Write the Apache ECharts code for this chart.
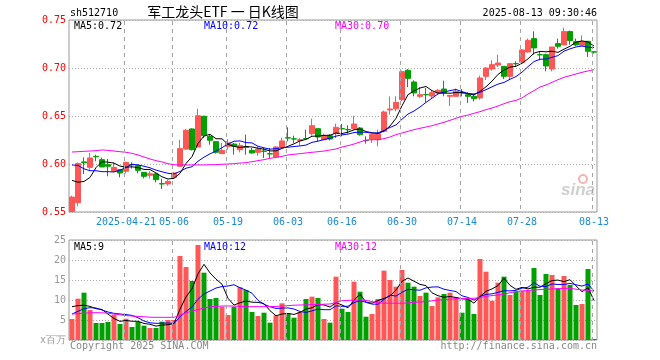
<!DOCTYPE html>
<html><head><meta charset="utf-8">
<script src="https://cdn.jsdelivr.net/npm/echarts@6/dist/echarts.min.js"></script>
<style>html,body{margin:0;padding:0;background:#fff}#c{width:660px;height:360px}</style>
</head><body><div id="c"></div>
<script>
const dates = ['04-08','04-09','04-10','04-11','04-14','04-15','04-16','04-17','04-18','04-21',
'04-22','04-23','04-24','04-25','04-28','04-29','04-30','05-06','05-07','05-08',
'05-09','05-12','05-13','05-14','05-15','05-16','05-19','05-20','05-21','05-22',
'05-23','05-26','05-27','05-28','05-29','05-30','06-03','06-04','06-05','06-06',
'06-09','06-10','06-11','06-12','06-13','06-16','06-17','06-18','06-19','06-20',
'06-23','06-24','06-25','06-26','06-27','06-30','07-01','07-02','07-03','07-04',
'07-07','07-08','07-09','07-10','07-11','07-14','07-15','07-16','07-17','07-18',
'07-21','07-22','07-23','07-24','07-25','07-28','07-29','07-30','07-31','08-01',
'08-04','08-05','08-06','08-07','08-08','08-11','08-12','08-13'];

const tickDates  = ['04-21','05-06','05-19','06-03','06-16','06-30','07-14','07-28','08-13'];
const tickLabels = ['2025-04-21','05-06','05-19','06-03','06-16','06-30','07-14','07-28','08-13'];
const priceTicks = [0.55, 0.60, 0.65, 0.70, 0.75];
const volTicks = [0, 5, 10, 15, 20, 25];

const opens = [0.5505,0.5597,0.6022,0.5965,0.6080,0.6045,0.5993,0.5924,0.5941,0.5924,
0.5995,0.5983,0.5913,0.5882,0.5896,0.5795,0.5792,0.5861,0.5976,0.6156,
0.6365,0.6177,0.6497,0.6288,0.6233,0.6108,0.6184,0.6208,0.6149,0.6177,
0.6142,0.6122,0.6135,0.6108,0.6073,0.6177,0.6273,0.6262,0.6243,0.6265,
0.6316,0.6368,0.6253,0.6295,0.6316,0.6370,0.6359,0.6368,0.6375,0.6245,
0.6260,0.6253,0.6340,0.6563,0.6576,0.6670,0.6976,0.6854,0.6705,0.6724,
0.6708,0.6740,0.6781,0.6705,0.6705,0.6742,0.6722,0.6705,0.6688,0.6913,
0.6990,0.7031,0.7017,0.6913,0.7046,0.7059,0.7167,0.7306,0.7139,0.7139,
0.6990,0.7254,0.7240,0.7379,0.7274,0.7236,0.7278,0.7168];

const closes = [0.5655,0.6005,0.6012,0.6063,0.6075,0.5969,0.5976,0.5965,0.5906,0.6017,
0.5990,0.5934,0.5872,0.5899,0.5837,0.5792,0.5819,0.5906,0.6160,0.6351,
0.6149,0.6503,0.6295,0.6247,0.6122,0.6142,0.6219,0.6184,0.6194,0.6174,
0.6115,0.6156,0.6132,0.6104,0.6177,0.6240,0.6270,0.6260,0.6253,0.6263,
0.6399,0.6281,0.6295,0.6260,0.6382,0.6366,0.6356,0.6417,0.6306,0.6243,
0.6306,0.6316,0.6542,0.6573,0.6642,0.6962,0.6892,0.6740,0.6722,0.6722,
0.6743,0.6767,0.6740,0.6715,0.6757,0.6740,0.6705,0.6681,0.6896,0.7000,
0.7035,0.7052,0.6913,0.7045,0.7044,0.7188,0.7288,0.7209,0.7137,0.7021,
0.7219,0.7226,0.7379,0.7285,0.7240,0.7278,0.7174,0.7166];

const lows = [0.5500,0.5560,0.5896,0.5940,0.6028,0.5969,0.5872,0.5913,0.5861,0.5900,
0.5951,0.5903,0.5850,0.5850,0.5809,0.5740,0.5774,0.5850,0.5976,0.6150,
0.6142,0.6177,0.6270,0.6201,0.6108,0.6108,0.6150,0.6097,0.6122,0.6097,
0.6108,0.6087,0.6063,0.6063,0.6063,0.6177,0.6236,0.6219,0.6191,0.6253,
0.6295,0.6236,0.6253,0.6246,0.6270,0.6288,0.6316,0.6358,0.6295,0.6212,
0.6219,0.6184,0.6330,0.6514,0.6549,0.6653,0.6800,0.6705,0.6688,0.6642,
0.6688,0.6720,0.6705,0.6604,0.6705,0.6705,0.6636,0.6653,0.6670,0.6875,
0.6972,0.7010,0.6885,0.6885,0.7010,0.7059,0.7160,0.7139,0.7080,0.6965,
0.6965,0.7202,0.7240,0.7243,0.7226,0.7236,0.7115,0.7150];

const highs = [0.5670,0.6015,0.6069,0.6115,0.6097,0.6066,0.6052,0.6017,0.5941,0.6024,
0.6017,0.5997,0.5913,0.5924,0.5906,0.5847,0.5837,0.5913,0.6253,0.6365,
0.6372,0.6576,0.6503,0.6306,0.6233,0.6219,0.6260,0.6219,0.6220,0.6306,
0.6167,0.6184,0.6167,0.6167,0.6184,0.6274,0.6382,0.6295,0.6271,0.6358,
0.6472,0.6368,0.6316,0.6312,0.6420,0.6417,0.6403,0.6503,0.6385,0.6288,
0.6306,0.6358,0.6556,0.6705,0.6705,0.6972,0.6990,0.6872,0.6802,0.6792,
0.6767,0.6780,0.6868,0.6715,0.6785,0.6781,0.6747,0.6730,0.6920,0.7010,
0.7080,0.7139,0.7017,0.7045,0.7070,0.7198,0.7306,0.7382,0.7174,0.7150,
0.7219,0.7306,0.7420,0.7390,0.7306,0.7340,0.7278,0.7174];

// volume, millions
const volumes = [5.25,10.33,11.83,7.5,4.25,4.25,4.5,6.33,4.0,5.33,
3.25,4.5,3.58,3.0,3.0,4.58,5.0,5.0,21.0,18.25,
14.75,23.75,16.83,10.25,10.5,8.33,6.25,8.33,13.2,12.5,
7.0,6.0,6.83,4.33,6.17,9.17,6.67,5.58,7.0,10.25,
10.83,10.5,5.25,4.33,15.83,7.83,7.0,14.58,12.08,5.83,
6.5,10.25,17.33,15.0,13.33,17.5,14.33,13.33,11.0,11.83,
8.5,10.67,11.5,11.83,10.67,6.83,10.17,6.5,20.25,17.08,
9.83,14.33,15.83,11.25,12.08,12.33,12.33,18.0,11.25,16.5,
16.25,12.92,16.0,13.75,8.75,9.0,17.75,0.25];

const ma5Head  = [0.583,0.581,0.5818,0.586];
const ma10Head = [0.599,0.5985,0.595,0.593,0.593,0.592,0.592,0.5917,0.5935];
const ma30 = [0.6125,0.6128,0.6132,0.6135,0.6139,0.6146,0.6142,0.6135,0.6128,0.6122,
0.6111,0.6094,0.6073,0.6052,0.6035,0.6021,0.6003,0.5993,0.599,0.599,
0.599,0.599,0.599,0.5993,0.5993,0.5997,0.600,0.6003,0.601,0.6014,
0.6024,0.6035,0.6045,0.6059,0.6069,0.608,0.6094,0.6101,0.6108,0.6115,
0.6122,0.6128,0.6135,0.6146,0.6156,0.6177,0.6191,0.6208,0.6229,0.625,
0.6253,0.6253,0.6264,0.6281,0.6306,0.6323,0.634,0.6358,0.6372,0.6385,
0.6399,0.6417,0.6434,0.6455,0.6476,0.6497,0.651,0.6528,0.6545,0.6566,
0.6583,0.6604,0.6628,0.6649,0.6663,0.6688,0.6729,0.6764,0.6802,0.6823,
0.6851,0.6878,0.6903,0.692,0.6938,0.6955,0.6969,0.6983];
const vma5Head  = [8.33,8.6,8.7,8.4];
const vma10Head = [6.5,7.17,7.83,8.08,8.0,7.5,7.0,6.67,6.5];
const vma30 = [6.5,6.6,6.7,6.8,6.83,6.8,6.7,6.5,6.3,6.1,
6.0,5.9,5.8,5.7,5.67,5.67,5.67,5.67,6.2,6.8,
7.2,7.6,8.0,8.3,8.4,8.5,8.5,8.5,8.4,8.33,
8.33,8.33,8.33,8.35,8.4,8.5,8.6,8.7,8.75,8.8,
8.85,8.9,8.95,9.0,9.4,9.83,9.9,9.95,10.0,9.9,
9.6,9.3,9.2,9.2,9.2,9.2,9.25,9.4,9.5,9.6,
9.8,10.0,10.1,10.2,10.3,10.35,10.4,10.42,10.6,10.9,
11.1,11.25,11.5,11.8,12.1,12.25,12.4,12.5,12.6,12.67,
12.75,12.85,12.92,12.9,12.7,12.5,12.4,12.25];

function movingAvg(arr, n, head) {
  return arr.map((v, i) => {
    if (i < n - 1) return head[i];
    let s = 0; for (let k = i - n + 1; k <= i; k++) s += arr[k];
    return s / n;
  });
}
const ma5 = movingAvg(closes, 5, ma5Head);
const ma10 = movingAvg(closes, 10, ma10Head);
const vma5 = movingAvg(volumes, 5, vma5Head);
const vma10 = movingAvg(volumes, 10, vma10Head);

const UP = '#FF5656', DOWN = '#00A000';
const FONT = 'DejaVu Sans Mono';
const kData = dates.map((d, i) => [opens[i], closes[i], lows[i], highs[i]]);
const volData = volumes.map((v, i) => ({ value: v, itemStyle: { color: closes[i] >= opens[i] ? UP : DOWN } }));
const tickIdx = new Set(tickDates.map(d => dates.indexOf(d)));
const last = a => a[a.length - 1];

const chart = echarts.init(document.getElementById('c'), null, { renderer: 'canvas' });
const ySplit = { show: true, lineStyle: { color: '#AAAAAA', type: [1, 2], width: 1 } };

function txt(x, y, text, color) {
  return { type: 'text', x, y, z: 100, style: { text, fill: color, font: '10px "' + FONT + '"', textVerticalAlign: 'middle' } };
}

// dashes of one vertical date line, as 1px rects
function dashRects(x, y0, y1) {
  const out = [];
  for (let y = y0 + 1; y < y1; y += 8) {
    out.push({ type: 'rect', silent: true, z: 50,
      shape: { x: x, y: y, width: 1, height: Math.min(4, y1 - y) },
      style: { fill: '#A4A4A4' } });
  }
  return out;
}
function dateLines(top, bot) {
  return function (params, api) {
    const a = api.coord([api.value(0), top]);
    const b = api.coord([api.value(0), bot]);
    const x = Math.round(a[0]) - 2;
    return { type: 'group', children: dashRects(x, Math.min(a[1], b[1]), Math.max(a[1], b[1])) };
  };
}
const priceTickData = tickDates.map(d => [dates.indexOf(d), last(priceTicks)]);
const volTickData = tickDates.map(d => [dates.indexOf(d), last(volTicks)]);

const staticGraphics = [
  txt(70, 13, 'sh512710', '#000'),
  { type: 'text', x: 223, y: 12, z: 100, style: { text: '军工龙头ETF 一 日K线图', fill: '#000', font: '14px "Noto Sans CJK SC"', textAlign: 'center', textVerticalAlign: 'middle' } },
  { type: 'text', x: 597, y: 13, z: 100, style: { text: '2025-08-13 09:30:46', fill: '#000', font: '10px "' + FONT + '"', textAlign: 'right', textVerticalAlign: 'middle' } },
  txt(74, 26, 'MA5:' + last(ma5).toFixed(2), '#000'),
  txt(204, 26, 'MA10:' + last(ma10).toFixed(2), '#0000FF'),
  txt(335, 26, 'MA30:' + last(ma30).toFixed(2), '#FF00FF'),
  txt(74, 247, 'MA5:' + Math.floor(last(vma5)), '#000'),
  txt(204, 247, 'MA10:' + Math.floor(last(vma10)), '#0000FF'),
  txt(335, 247, 'MA30:' + Math.floor(last(vma30)), '#FF00FF'),
  txt(70, 346, 'Copyright 2025 SINA.COM', '#888'),
  { type: 'text', x: 597, y: 346, z: 100, style: { text: 'http://finance.sina.com.cn', fill: '#888', font: '10px "' + FONT + '"', textAlign: 'right', textVerticalAlign: 'middle' } },
  { type: 'circle', shape: { cx: 583, cy: 179, r: 4 }, z: 1, style: { fill: 'none', stroke: '#F4B4B4', lineWidth: 2 } },
  { type: 'text', x: 595, y: 190, z: 1, style: { text: 'sina', fill: '#CFCFCF', font: 'italic bold 17px "Liberation Sans"', textAlign: 'right', textVerticalAlign: 'middle' } }
];

chart.setOption({
  animation: false,
  backgroundColor: '#fff',
  grid: [
    { left: 69, top: 20, width: 528, height: 192, show: true, borderColor: '#999', borderWidth: 1, backgroundColor: 'transparent' },
    { left: 69, top: 240, width: 528, height: 100, show: true, borderColor: '#999', borderWidth: 1, backgroundColor: 'transparent' }
  ],
  xAxis: [
    { type: 'category', gridIndex: 0, data: dates, boundaryGap: true,
      axisLine: { show: false }, axisTick: { show: false },
      axisLabel: { interval: i => tickIdx.has(i), margin: 5, color: '#1A8AD8', fontFamily: FONT, fontSize: 10,
        formatter: v => tickLabels[tickDates.indexOf(v)] },
      splitLine: { show: false } },
    { type: 'category', gridIndex: 1, data: dates, boundaryGap: true,
      axisLine: { show: false }, axisTick: { show: false }, axisLabel: { show: false },
      splitLine: { show: false } }
  ],
  yAxis: [
    { type: 'value', gridIndex: 0, min: priceTicks[0], max: last(priceTicks), interval: 0.05,
      axisLine: { show: false }, axisTick: { show: false },
      axisLabel: { color: '#FF0000', fontFamily: FONT, fontSize: 10, margin: 3, formatter: v => v.toFixed(2) },
      splitLine: ySplit },
    { type: 'value', gridIndex: 1, min: volTicks[0], max: last(volTicks), interval: 5,
      axisLine: { show: false }, axisTick: { show: false },
      axisLabel: { color: '#999999', fontFamily: FONT, fontSize: 10, margin: 3,
        formatter: v => v === 0 ? 'x百万' : String(v) },
      splitLine: ySplit }
  ],
  series: [
    { type: 'candlestick', xAxisIndex: 0, yAxisIndex: 0, data: kData, barWidth: 5, clip: true, z: 3,
      itemStyle: { color: UP, color0: DOWN, borderColor: UP, borderColor0: DOWN, borderWidth: 1 } },
    { type: 'line', xAxisIndex: 0, yAxisIndex: 0, data: ma5, symbol: 'none', z: 4, lineStyle: { color: '#000', width: 1 } },
    { type: 'line', xAxisIndex: 0, yAxisIndex: 0, data: ma10, symbol: 'none', z: 4, lineStyle: { color: '#0000FF', width: 1 } },
    { type: 'line', xAxisIndex: 0, yAxisIndex: 0, data: ma30, symbol: 'none', z: 4, lineStyle: { color: '#FF00FF', width: 1 } },
    { type: 'bar', xAxisIndex: 1, yAxisIndex: 1, data: volData, barWidth: 5, z: 3 },
    { type: 'line', xAxisIndex: 1, yAxisIndex: 1, data: vma5, symbol: 'none', z: 4, lineStyle: { color: '#000', width: 1 } },
    { type: 'line', xAxisIndex: 1, yAxisIndex: 1, data: vma10, symbol: 'none', z: 4, lineStyle: { color: '#0000FF', width: 1 } },
    { type: 'line', xAxisIndex: 1, yAxisIndex: 1, data: vma30, symbol: 'none', z: 4, lineStyle: { color: '#FF00FF', width: 1 } },
    { type: 'custom', xAxisIndex: 0, yAxisIndex: 0, data: priceTickData, z: 10, silent: true, clip: false,
      encode: { x: 0, y: 1 }, renderItem: dateLines(last(priceTicks), priceTicks[0]) },
    { type: 'custom', xAxisIndex: 1, yAxisIndex: 1, data: volTickData, z: 10, silent: true, clip: false,
      encode: { x: 0, y: 1 }, renderItem: dateLines(last(volTicks), volTicks[0]) }
  ],
  graphic: staticGraphics
});

// second path for the same date lines, through convertToPixel
try {
  const extra = [];
  tickDates.forEach(d => {
    const idx = dates.indexOf(d);
    [[0, last(priceTicks), priceTicks[0]], [1, last(volTicks), volTicks[0]]].forEach(([g, top, bot]) => {
      const a = chart.convertToPixel({ xAxisIndex: g, yAxisIndex: g }, [idx, top]);
      const b = chart.convertToPixel({ xAxisIndex: g, yAxisIndex: g }, [idx, bot]);
      if (!a || !b || isNaN(a[0])) return;
      const x = Math.round(a[0]) - 2;
      dashRects(x, Math.min(a[1], b[1]), Math.max(a[1], b[1])).forEach(r => extra.push(r));
    });
  });
  if (extra.length) chart.setOption({ graphic: { elements: staticGraphics.concat(extra) } });
} catch (e) { /* keep the chart as drawn */ }
</script>
</body></html>
